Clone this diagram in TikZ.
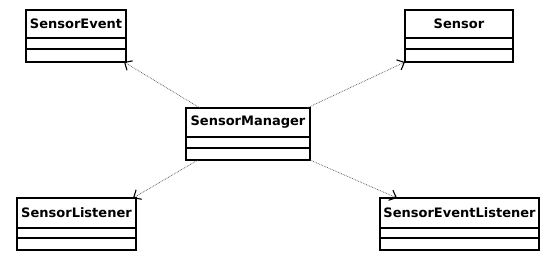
\documentclass[tikz,border=0pt]{standalone}
\usepackage{fontspec}
\setsansfont{DejaVu Sans}
\usetikzlibrary{positioning,arrows.meta}
\tikzset{
  classtitle/.style={draw, line width=1.3pt, outer sep=0pt, inner sep=0pt, minimum height=28pt,
    font=\fontsize{13}{15}\sffamily\bfseries},
  classpart/.style={draw, line width=1.3pt, outer sep=0pt, inner sep=0pt, minimum height=11pt},
  dep/.style={densely dotted, line width=0.7pt, black!70,
    -{Straight Barb[length=6pt,width=11pt,line width=1.1pt,black]}}
}
\begin{document}
\begin{tikzpicture}[x=1pt,y=-1pt]
\useasboundingbox (0,0) rectangle (552,260);
% classes
\node[classtitle, minimum width=100pt, anchor=north west] (event) at (26,10) {SensorEvent};
\node[classpart, minimum width=100pt, below=0pt of event] (event1) {};
\node[classpart, minimum width=100pt, minimum height=13pt, below=0pt of event1] (event2) {};
\node[classtitle, minimum width=108pt, anchor=north west] (sensor) at (405,10) {Sensor};
\node[classpart, minimum width=108pt, below=0pt of sensor] (sensor1) {};
\node[classpart, minimum width=108pt, minimum height=13pt, below=0pt of sensor1] (sensor2) {};
\node[classtitle, minimum width=124pt, minimum height=29pt, anchor=north west] (mgr) at (186,108) {SensorManager};
\node[classpart, minimum width=124pt, below=0pt of mgr] (mgr1) {};
\node[classpart, minimum width=124pt, minimum height=12pt, below=0pt of mgr1] (mgr2) {};
\node[classtitle, minimum width=119pt, minimum height=30pt, anchor=north west] (listener) at (17,198) {SensorListener};
\node[classpart, minimum width=119pt, minimum height=10pt, below=0pt of listener] (listener1) {};
\node[classpart, minimum width=119pt, minimum height=12pt, below=0pt of listener1] (listener2) {};
\node[classtitle, minimum width=159pt, minimum height=30pt, anchor=north west] (evlistener) at (380,198) {SensorEventListener};
\node[classpart, minimum width=159pt, minimum height=10pt, below=0pt of evlistener] (evlistener1) {};
\node[classpart, minimum width=159pt, minimum height=12pt, below=0pt of evlistener1] (evlistener2) {};
% dependencies
\draw[dep] ([xshift=14pt]mgr.north west) -- ([xshift=-2pt]event2.south east);
\draw[dep] ([xshift=-3pt]mgr.north east) -- (sensor2.south west);
\draw[dep] ([xshift=12pt]mgr2.south west) -- ([xshift=-3pt]listener.north east);
\draw[dep] (mgr2.south east) -- ([xshift=17pt]evlistener.north west);
\end{tikzpicture}
\end{document}
